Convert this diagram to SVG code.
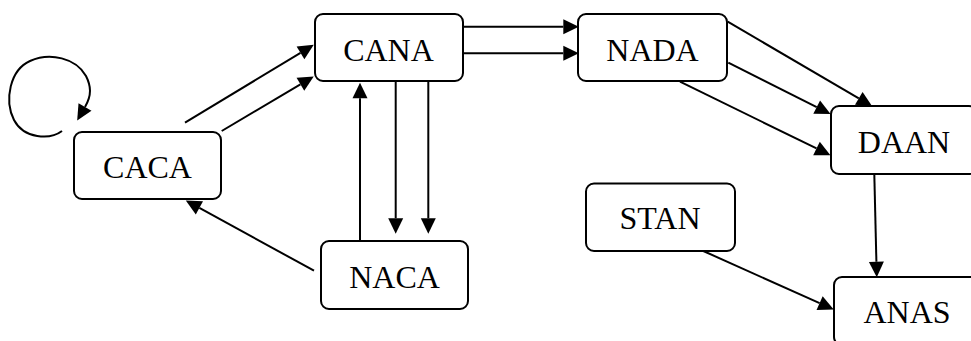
<svg xmlns="http://www.w3.org/2000/svg" width="971" height="341" viewBox="0 0 971 341">
  <style>
    .edge { fill: none; stroke: #000; stroke-width: 2; }
    .box { fill: #fff; stroke: #000; stroke-width: 2; }
    .label { font-family: "Liberation Serif", "Times New Roman", serif; font-size: 32px; fill: #000; text-anchor: middle; }
  </style>
  <defs>
    <!-- arrowhead: base sits on the path end, tip 15px ahead -->
    <marker id="arrow" markerUnits="userSpaceOnUse" markerWidth="16" markerHeight="16" refX="0" refY="7.5" orient="auto" overflow="visible">
      <path d="M0,0 L15.5,7.5 L0,15 z" fill="#000"/>
    </marker>
  </defs>

  <g id="connectors">
    <!-- CACA self loop -->
    <path class="edge" marker-end="url(#arrow)" d="M62,131 C50,140 24,139 14,120 C4,100 10,70 30,61 C50,52 76,58 86,76 C91,86 92,95 85,107"/>
    <!-- CACA -> CANA -->
    <line class="edge" marker-end="url(#arrow)" x1="185" y1="122.7" x2="300.5" y2="52.8"/>
    <line class="edge" marker-end="url(#arrow)" x1="221.7" y1="131" x2="300.4" y2="84.3"/>
    <!-- CANA -> NADA -->
    <line class="edge" marker-end="url(#arrow)" x1="463" y1="26.7" x2="563.3" y2="26.7"/>
    <line class="edge" marker-end="url(#arrow)" x1="463" y1="53.3" x2="563.3" y2="53.3"/>
    <!-- NACA -> CANA -->
    <line class="edge" marker-end="url(#arrow)" x1="360" y1="241" x2="360" y2="98.3"/>
    <!-- CANA -> NACA -->
    <line class="edge" marker-end="url(#arrow)" x1="395.7" y1="81" x2="395.7" y2="218.3"/>
    <line class="edge" marker-end="url(#arrow)" x1="428.3" y1="81" x2="428.3" y2="218.3"/>
    <!-- NACA -> CACA -->
    <line class="edge" marker-end="url(#arrow)" x1="314" y1="270.7" x2="199.4" y2="207.9"/>
    <!-- NADA -> DAAN -->
    <line class="edge" marker-end="url(#arrow)" x1="727.7" y1="21.7" x2="858.8" y2="98.4"/>
    <line class="edge" marker-end="url(#arrow)" x1="728.3" y1="62.7" x2="816.7" y2="107.1"/>
    <line class="edge" marker-end="url(#arrow)" x1="680" y1="81.7" x2="816.5" y2="148.4"/>
    <!-- DAAN -> ANAS -->
    <line class="edge" marker-end="url(#arrow)" x1="874.3" y1="174" x2="876.4" y2="261.7"/>
    <!-- STAN -> ANAS -->
    <line class="edge" marker-end="url(#arrow)" x1="703.3" y1="251" x2="819.6" y2="303.2"/>
  </g>

  <g id="CACA">
    <rect class="box" x="74" y="132" width="147" height="67" rx="8"/>
    <text class="label" x="147.5" y="178.3">CACA</text>
  </g>
  <g id="CANA">
    <rect class="box" x="315" y="14" width="148" height="67" rx="8"/>
    <text class="label" x="388.5" y="60.7">CANA</text>
  </g>
  <g id="NADA">
    <rect class="box" x="578" y="14" width="149" height="67" rx="8"/>
    <text class="label" x="652.5" y="60.7">NADA</text>
  </g>
  <g id="DAAN">
    <rect class="box" x="831" y="106" width="146" height="68" rx="8"/>
    <text class="label" x="904" y="152.7">DAAN</text>
  </g>
  <g id="STAN">
    <rect class="box" x="586" y="183.5" width="149" height="67.5" rx="8"/>
    <text class="label" x="660" y="229.3">STAN</text>
  </g>
  <g id="NACA">
    <rect class="box" x="321" y="241" width="147" height="68" rx="8"/>
    <text class="label" x="394.5" y="287.7">NACA</text>
  </g>
  <g id="ANAS">
    <rect class="box" x="834" y="277" width="146" height="68" rx="8"/>
    <text class="label" x="907" y="323.3">ANAS</text>
  </g>
</svg>
